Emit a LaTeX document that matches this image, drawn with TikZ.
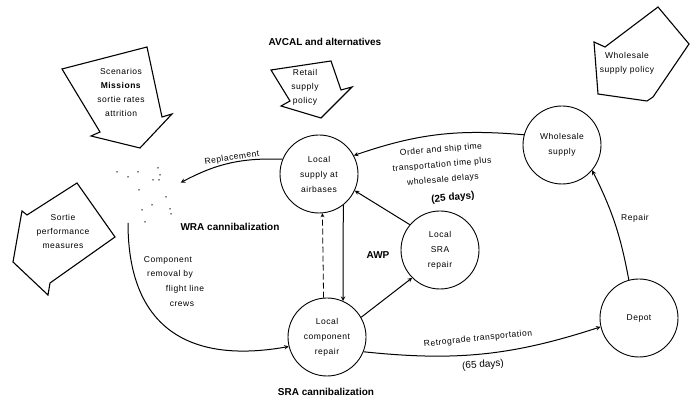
\documentclass[tikz,border=0pt]{standalone}
\usepackage{fontspec}
\setmainfont{Liberation Sans}
\newfontfamily\scanfont[LetterSpace=6]{Liberation Sans}
\usepackage{tikz}
\usetikzlibrary{arrows}
\pgfdeclarelayer{edgelayer}
\pgfdeclarelayer{nodelayer}
\pgfsetlayers{edgelayer,nodelayer,main}
\tikzstyle{none}=[inner sep=0pt]
\tikzstyle{place}=[circle,draw=black,fill=white,line width=0.9,minimum size=78,inner sep=0pt,align=center,font=\scanfont\fontsize{8.5}{15}\selectfont]
\tikzstyle{bigarrow}=[draw=black,line width=1.1,line join=miter]
\tikzstyle{flow}=[->,>=stealth,line width=1.0]
\tikzstyle{dashflow}=[->,>=stealth,line width=0.8,dash pattern=on 6pt off 3pt]
\tikzstyle{note}=[align=center,font=\scanfont\fontsize{8.5}{14}\selectfont]
\tikzstyle{heading}=[font=\bfseries\fontsize{10}{12}\selectfont]
\tikzstyle{days}=[font=\fontsize{10}{12}\selectfont]
\tikzstyle{speck}=[circle,fill=black,inner sep=0pt,minimum size=1.5]

\begin{document}
\begin{tikzpicture}[x=1pt,y=1pt]
	\useasboundingbox (0,0) rectangle (690,398);
	\begin{pgfonlayer}{nodelayer}
		\node [style=place] (lsup) at (319, 224) {Local\\supply at\\airbases};
		\node [style=place] (comp) at (327, 61) {Local\\component\\repair};
		\node [style=place] (srar) at (440, 148) {Local\\SRA\\repair};
		\node [style=place] (whole) at (562, 253) {Wholesale\\supply};
		\node [style=place] (depot) at (639, 80) {Depot};
		\node [style=none] (plane) at (180, 215) {};
		\node [style=none] (remstart) at (128, 175) {};

		\node [style=speck] (s1) at (117, 226) {};
		\node [style=speck] (s2) at (128, 221) {};
		\node [style=speck] (s3) at (138, 226) {};
		\node [style=speck] (s4) at (153, 218) {};
		\node [style=speck] (s5) at (160, 223) {};
		\node [style=speck] (s6) at (159, 218) {};
		\node [style=speck] (s7) at (139, 208) {};
		\node [style=speck] (s8) at (142, 188) {};
		\node [style=speck] (s9) at (152, 193) {};
		\node [style=speck] (s10) at (170, 189) {};
		\node [style=speck] (s11) at (171, 184) {};
		\node [style=speck] (s12) at (166, 201) {};
		\node [style=speck] (s13) at (145, 176) {};
		\node [style=speck] (s14) at (158, 230) {};

		\node [style=heading] (avcal) at (325, 356) {AVCAL and alternatives};
		\node [style=heading] (wracan) at (230, 171) {WRA cannibalization};
		\node [style=heading] (sracan) at (326, 6) {SRA cannibalization};
		\node [style=heading] (awp) at (378, 143) {AWP};
		\node [style=note, rotate=9] (repl) at (232, 240) {Replacement};
		\node [style=note, rotate=5] (order1) at (441, 248) {Order and ship time};
		\node [style=note, rotate=5] (order2) at (442, 233) {transportation time plus};
		\node [style=note, rotate=5] (order3) at (443, 218) {wholesale delays};
		\node [style=heading, rotate=5] (d25) at (453, 200) {(25 days)};
		\node [style=note, rotate=6] (retro) at (478, 59) {Retrograde transportation};
		\node [style=days, rotate=4] (d65) at (483, 33) {(65 days)};
		\node [style=note] (rep) at (635, 180) {Repair};
		\node [style=note] (rem1) at (168, 138) {Component};
		\node [style=note] (rem2) at (170, 124) {removal by};
		\node [style=note] (rem3) at (185, 109) {flight line};
		\node [style=note] (rem4) at (182, 94) {crews};

		\node [style=note] (scen) at (121, 306) {Scenarios\\\textbf{Missions}\\sortie rates\\attrition};
		\node [style=note] (retail) at (305, 311) {Retail\\supply\\policy};
		\node [style=note] (wpol) at (627, 335) {Wholesale\\supply policy};
		\node [style=note] (sortie) at (63, 167) {Sortie\\performance\\measures};
	\end{pgfonlayer}
	\begin{pgfonlayer}{edgelayer}
		\draw [style=bigarrow] (62,329) -- (147,351) -- (162,281) -- (172,284) -- (140,250) -- (91,262) -- (100,266) -- cycle;
		\draw [style=bigarrow] (271,328) -- (331,337) -- (341,308) -- (352,311) -- (321,280) -- (281,292) -- (290,297) -- cycle;
		\draw [style=bigarrow] (594,356) -- (605,351) -- (658,391) -- (689,354) -- (653,301) -- (647,297) -- (598,304) -- cycle;
		\draw [style=bigarrow] (22,187) -- (27,183) -- (77,215) -- (115,161) -- (50,115) -- (48,103) -- (13,136) -- cycle;

		\draw [style=flow, bend right=12] (whole.165) to (lsup.28);
		\draw [style=flow, bend right=15] (lsup.158) to (plane);
		\draw [style=flow, bend right=8] (depot.105) to (whole.-40);
		\draw [style=flow] (comp.30) to (srar.225);
		\draw [style=flow] (srar.140) to (lsup.-25);
		\draw [style=flow] (lsup.-52) to (comp.66);
		\draw [style=dashflow] (comp.95) to (lsup.-85);
		\draw [style=flow, bend right=12] (comp.-22) to (depot.193);
		\draw [style=flow, out=-90, in=190, looseness=1.3] (remstart.center) to (comp.194);
	\end{pgfonlayer}
\end{tikzpicture}
\end{document}
